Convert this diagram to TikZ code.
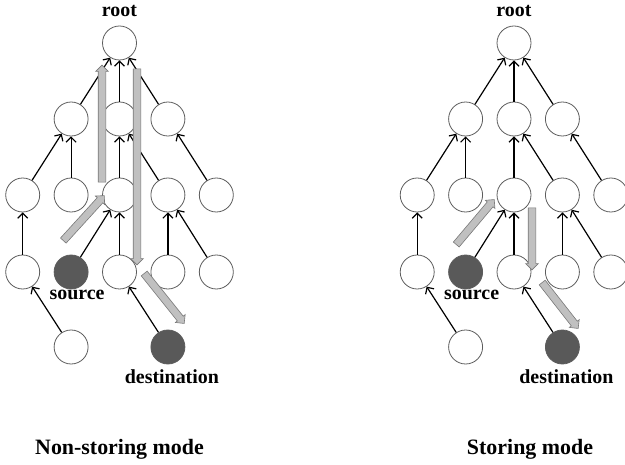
\documentclass[tikz,border=0pt]{standalone}
\usepackage{fontspec}
\setmainfont{Liberation Serif}
\usetikzlibrary{arrows.meta,calc,shapes.arrows}
\definecolor{NodeRing}{HTML}{5C5C5C}
\definecolor{NodeDark}{HTML}{595959}
\definecolor{RouteFill}{HTML}{C0C0C0}
\definecolor{RouteEdge}{HTML}{787878}
\tikzset{
  treenode/.style={circle,draw=NodeRing,line width=0.8pt,fill=white,minimum size=34bp,inner sep=0pt},
  endnode/.style={treenode,fill=NodeDark},
  uplink/.style={-{Straight Barb[length=5bp,width=10bp]},line width=1.2pt,draw=black},
  routearrow/.style={single arrow,draw=RouteEdge,fill=RouteFill,line width=0.6pt,inner xsep=0pt,inner ysep=3.5bp,minimum width=12.5bp,single arrow head extend=2.5bp,single arrow head indent=0pt},
  tag/.style={font=\bfseries\fontsize{20}{20}\selectfont,inner sep=0pt},
  modetitle/.style={font=\bfseries\fontsize{22}{22}\selectfont,inner sep=0pt}
}
% fat grey arrow between two points: name, tail, tip
\newcommand{\routearrow}[3]{%
  \path let \p1=($#3-#2$), \n1={atan2(\y1,\x1)}, \n2={veclen(\x1,\y1)} in
    node[routearrow,minimum height=\n2,rotate=\n1] (#1) at ($#2!0.5!#3$) {};}

\begin{document}
\begin{tikzpicture}[x=1bp,y=-1bp]
\useasboundingbox (0,0) rectangle (625,465);

% the same DODAG twice, left and right
\foreach \t/\dx in {L/0,R/394.5} {
  \begin{scope}[xshift=\dx bp]
    \node[treenode] (\t-root) at (119.5,43) {};
    \node[treenode] (\t-m1) at (71.1,119) {};
    \node[treenode] (\t-m2) at (119.5,119) {};
    \node[treenode] (\t-m3) at (167.9,119) {};
    \node[treenode] (\t-p1) at (22.7,195) {};
    \node[treenode] (\t-p2) at (71.1,195) {};
    \node[treenode] (\t-p3) at (119.5,195) {};
    \node[treenode] (\t-p4) at (167.9,195) {};
    \node[treenode] (\t-p5) at (216.3,195) {};
    \node[treenode] (\t-q1) at (22.7,272) {};
    \node[endnode]  (\t-q2) at (71.1,272) {};
    \node[treenode] (\t-q3) at (119.5,272) {};
    \node[treenode] (\t-q4) at (167.9,272) {};
    \node[treenode] (\t-q5) at (216.3,272) {};
    \node[treenode] (\t-w1) at (71.1,347) {};
    \node[endnode]  (\t-w2) at (167.9,347) {};

    \draw[uplink] (\t-m1) -- (\t-root);
    \draw[uplink] (\t-m2) -- (\t-root);
    \draw[uplink] (\t-m3) -- (\t-root);
    \draw[uplink] (\t-p1) -- (\t-m1);
    \draw[uplink] (\t-p2) -- (\t-m1);
    \draw[uplink] (\t-p3) -- (\t-m2);
    \draw[uplink] (\t-p4) -- (\t-m2);
    \draw[uplink] (\t-p5) -- (\t-m3);
    \draw[uplink] (\t-q1) -- (\t-p1);
    \draw[uplink] (\t-q2) -- (\t-p3);
    \draw[uplink] (\t-q3) -- (\t-p3);
    \draw[uplink] (\t-q4) -- (\t-p4);
    \draw[uplink] (\t-q5) -- (\t-p4);
    \draw[uplink] (\t-w1) -- (\t-q1);
    \draw[uplink] (\t-w2) -- (\t-q3);

    \node[tag] (\t-roottag) at ($(\t-root)+(0,-32)$) {root};
    \node[tag] (\t-srctag) at ($(\t-q2)+(6,23)$) {source};
    \node[tag] (\t-dsttag) at ($(\t-w2)+(4,30)$) {destination};
  \end{scope}
}

% source route through the root
\routearrow{L-g1}{(62,242)}{(103,197)}
\routearrow{L-g2}{(102,184)}{(102,67)}
\routearrow{L-g3}{(137,67)}{(137,263)}
\routearrow{L-g4}{(143,272)}{(183,322)}
% hop-by-hop, turning at the common parent
\routearrow{R-g1}{(455,246)}{(493,201)}
\routearrow{R-g2}{(532,206)}{(532,268)}
\routearrow{R-g3}{(541,281)}{(577,327)}

\node[modetitle] (nonstoring) at (119.5,449) {Non-storing mode};
\node[modetitle] (storing) at (530,449) {Storing mode};
\end{tikzpicture}
\end{document}
